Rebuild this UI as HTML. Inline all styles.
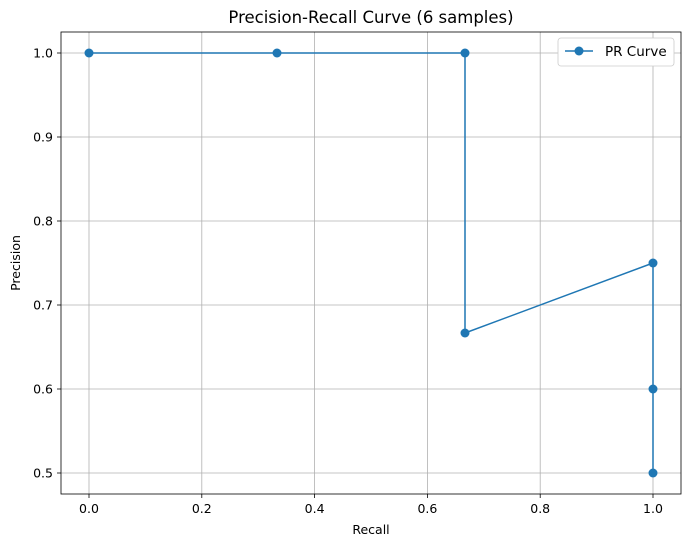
<!DOCTYPE html>
<html><head><style>body{margin:0;background:#fff}svg{display:block;font-family:"DejaVu Sans",sans-serif}</style></head>
<body>
<svg width="691" height="547" viewBox="0 0 691 547">
<rect width="691" height="547" fill="#fff"/>
<g stroke="#b0b0b0" stroke-width="0.8">
<line x1="89" y1="32" x2="89" y2="494"/><line x1="201.8" y1="32" x2="201.8" y2="494"/><line x1="314.6" y1="32" x2="314.6" y2="494"/><line x1="427.4" y1="32" x2="427.4" y2="494"/><line x1="540.2" y1="32" x2="540.2" y2="494"/><line x1="653" y1="32" x2="653" y2="494"/>
<line x1="61" y1="53" x2="681" y2="53"/><line x1="61" y1="137" x2="681" y2="137"/><line x1="61" y1="221" x2="681" y2="221"/><line x1="61" y1="305" x2="681" y2="305"/><line x1="61" y1="389" x2="681" y2="389"/><line x1="61" y1="473" x2="681" y2="473"/>
</g>
<rect x="61" y="32" width="620" height="462" fill="none" stroke="#000" stroke-width="0.8"/>
<g stroke="#000" stroke-width="0.8">
<line x1="89" y1="494" x2="89" y2="498"/><line x1="201.8" y1="494" x2="201.8" y2="498"/><line x1="314.6" y1="494" x2="314.6" y2="498"/><line x1="427.4" y1="494" x2="427.4" y2="498"/><line x1="540.2" y1="494" x2="540.2" y2="498"/><line x1="653" y1="494" x2="653" y2="498"/>
<line x1="57" y1="53" x2="61" y2="53"/><line x1="57" y1="137" x2="61" y2="137"/><line x1="57" y1="221" x2="61" y2="221"/><line x1="57" y1="305" x2="61" y2="305"/><line x1="57" y1="389" x2="61" y2="389"/><line x1="57" y1="473" x2="61" y2="473"/>
</g>
<g font-size="12.5" fill="#000" text-anchor="middle">
<text x="89" y="513">0.0</text><text x="201.8" y="513">0.2</text><text x="314.6" y="513">0.4</text><text x="427.4" y="513">0.6</text><text x="540.2" y="513">0.8</text><text x="653" y="513">1.0</text>
</g>
<g font-size="12.5" fill="#000" text-anchor="end">
<text x="53" y="57.5">1.0</text><text x="53" y="141.5">0.9</text><text x="53" y="225.5">0.8</text><text x="53" y="309.5">0.7</text><text x="53" y="393.5">0.6</text><text x="53" y="477.5">0.5</text>
</g>
<text x="371" y="534" font-size="12.5" text-anchor="middle">Recall</text>
<text x="20" y="263" font-size="12.5" text-anchor="middle" transform="rotate(-90 20 263)">Precision</text>
<text x="371" y="23" font-size="16.5" text-anchor="middle">Precision-Recall Curve (6 samples)</text>
<polyline points="89,53 277,53 465,53 465,333 653,263 653,389 653,473" fill="none" stroke="#1f77b4" stroke-width="1.5"/>
<g fill="#1f77b4">
<circle cx="89" cy="53" r="4.5"/><circle cx="277" cy="53" r="4.5"/><circle cx="465" cy="53" r="4.5"/><circle cx="465" cy="333" r="4.5"/><circle cx="653" cy="263" r="4.5"/><circle cx="653" cy="389" r="4.5"/><circle cx="653" cy="473" r="4.5"/>
</g>
<rect x="558" y="38" width="116" height="28" rx="3" fill="#fff" stroke="#ccc" stroke-width="0.8"/>
<line x1="565" y1="51" x2="593" y2="51" stroke="#1f77b4" stroke-width="1.5"/>
<circle cx="579" cy="51" r="4.5" fill="#1f77b4"/>
<text x="605" y="56" font-size="13.5">PR Curve</text>
</svg>
</body></html>
